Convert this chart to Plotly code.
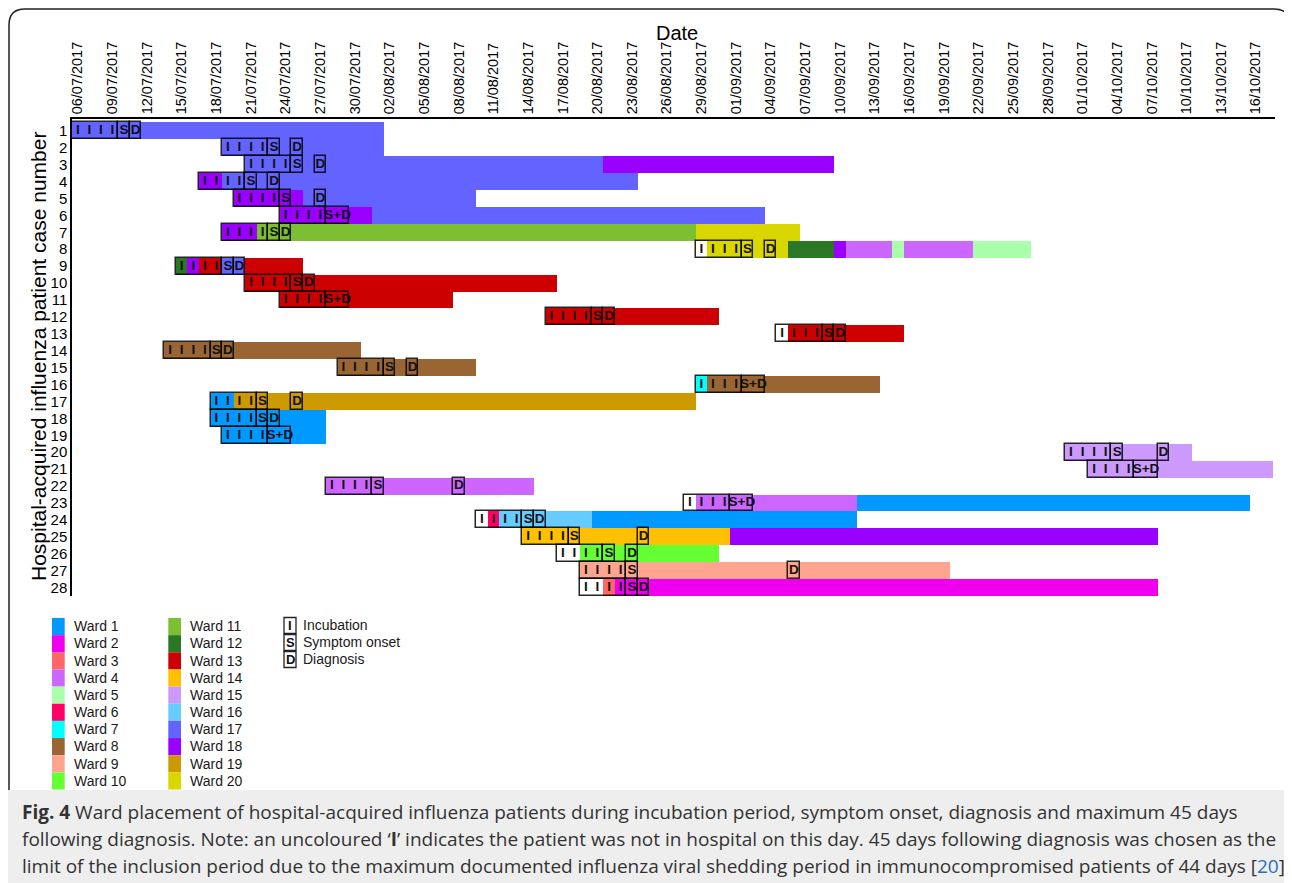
import pandas as pd
import plotly.graph_objects as go

# ---------------- data ----------------
ward_names = ["Ward 1", "Ward 2", "Ward 3", "Ward 4", "Ward 5", "Ward 6", "Ward 7",
              "Ward 8", "Ward 9", "Ward 10", "Ward 11", "Ward 12", "Ward 13", "Ward 14",
              "Ward 15", "Ward 16", "Ward 17", "Ward 18", "Ward 19", "Ward 20"]
ward_colors = ["#0099FF", "#EE00EE", "#FF6666", "#CC66FF", "#AAFFAA", "#FF0066", "#00FFFF",
               "#996633", "#FFA58F", "#66FF33", "#7DBF33", "#2A7826", "#CC0000", "#FFC000",
               "#CC99FF", "#66CCFF", "#6363FF", "#9900FF", "#CC9900", "#DAD600"]
not_in_hospital_color = "#FFFFFF"

patients = list(range(1, 29))
incubation_start = ["2017-07-06", "2017-07-19", "2017-07-21", "2017-07-17", "2017-07-20",
                    "2017-07-24", "2017-07-19", "2017-08-29", "2017-07-15", "2017-07-21",
                    "2017-07-24", "2017-08-16", "2017-09-05", "2017-07-14", "2017-07-29",
                    "2017-08-29", "2017-07-18", "2017-07-18", "2017-07-19", "2017-09-30",
                    "2017-10-02", "2017-07-28", "2017-08-28", "2017-08-10", "2017-08-14",
                    "2017-08-17", "2017-08-19", "2017-08-19"]
symptom_onset = ["2017-07-10", "2017-07-23", "2017-07-25", "2017-07-21", "2017-07-24",
                 "2017-07-28", "2017-07-23", "2017-09-02", "2017-07-19", "2017-07-25",
                 "2017-07-28", "2017-08-20", "2017-09-09", "2017-07-18", "2017-08-02",
                 "2017-09-02", "2017-07-22", "2017-07-22", "2017-07-23", "2017-10-04",
                 "2017-10-06", "2017-08-01", "2017-09-01", "2017-08-14", "2017-08-18",
                 "2017-08-21", "2017-08-23", "2017-08-23"]
diagnosis = ["2017-07-11", "2017-07-25", "2017-07-27", "2017-07-23", "2017-07-27",
             "2017-07-28", "2017-07-24", "2017-09-04", "2017-07-20", "2017-07-26",
             "2017-07-28", "2017-08-21", "2017-09-10", "2017-07-19", "2017-08-04",
             "2017-09-02", "2017-07-25", "2017-07-23", "2017-07-23", "2017-10-08",
             "2017-10-06", "2017-08-08", "2017-09-01", "2017-08-15", "2017-08-24",
             "2017-08-23", "2017-09-06", "2017-08-24"]

# ward placement segments (ward 0 = not in hospital); end date exclusive
seg_patient = [1, 2, 3, 3, 4, 4, 5, 5, 6, 6,
               7, 7, 7, 8, 8, 8, 8, 8, 8, 8, 8,
               9, 9, 9, 9, 9, 10, 11, 12, 13, 13,
               14, 15, 16, 16, 17, 17, 18, 19, 20, 21,
               22, 23, 23, 23, 24, 24, 24, 24, 25, 25,
               26, 26, 27, 28, 28, 28]
seg_start = ["2017-07-06", "2017-07-19", "2017-07-21", "2017-08-21", "2017-07-17", "2017-07-19",
             "2017-07-20", "2017-07-26", "2017-07-24", "2017-08-01",
             "2017-07-19", "2017-07-22", "2017-08-29",
             "2017-08-29", "2017-08-30", "2017-09-06", "2017-09-10", "2017-09-11", "2017-09-15",
             "2017-09-16", "2017-09-22",
             "2017-07-15", "2017-07-16", "2017-07-17", "2017-07-19", "2017-07-21",
             "2017-07-21", "2017-07-24", "2017-08-16", "2017-09-05", "2017-09-06",
             "2017-07-14", "2017-07-29", "2017-08-29", "2017-08-30", "2017-07-18", "2017-07-20",
             "2017-07-18", "2017-07-19", "2017-09-30", "2017-10-02",
             "2017-07-28", "2017-08-28", "2017-08-29", "2017-09-12",
             "2017-08-10", "2017-08-11", "2017-08-12", "2017-08-20", "2017-08-14", "2017-09-01",
             "2017-08-17", "2017-08-19", "2017-08-19", "2017-08-19", "2017-08-21", "2017-08-22"]
seg_end = ["2017-08-02", "2017-08-02", "2017-08-21", "2017-09-10", "2017-07-19", "2017-08-24",
           "2017-07-26", "2017-08-10", "2017-08-01", "2017-09-04",
           "2017-07-22", "2017-08-29", "2017-09-07",
           "2017-08-30", "2017-09-06", "2017-09-10", "2017-09-11", "2017-09-15", "2017-09-16",
           "2017-09-22", "2017-09-27",
           "2017-07-16", "2017-07-17", "2017-07-19", "2017-07-21", "2017-07-26",
           "2017-08-17", "2017-08-08", "2017-08-31", "2017-09-06", "2017-09-16",
           "2017-07-31", "2017-08-10", "2017-08-30", "2017-09-14", "2017-07-20", "2017-08-29",
           "2017-07-28", "2017-07-28", "2017-10-11", "2017-10-18",
           "2017-08-15", "2017-08-29", "2017-09-12", "2017-10-16",
           "2017-08-11", "2017-08-12", "2017-08-20", "2017-09-12", "2017-09-01", "2017-10-08",
           "2017-08-19", "2017-08-31", "2017-09-20", "2017-08-21", "2017-08-22", "2017-10-08"]
seg_ward = [17, 17, 17, 18, 18, 17, 18, 17, 18, 17,
            18, 11, 20, 0, 20, 12, 18, 4, 5, 4, 5,
            12, 18, 13, 17, 13, 13, 13, 13, 0, 13,
            8, 8, 7, 8, 1, 19, 1, 1, 15, 15,
            4, 0, 4, 1, 0, 6, 16, 1, 14, 18,
            0, 10, 9, 0, 3, 2]

symbols = ["I", "S", "D"]
symbol_labels = ["Incubation", "Symptom onset", "Diagnosis"]

# ---------------- helpers ----------------
DAY = pd.Timedelta(days=1)
HALF = pd.Timedelta(hours=12)
FONT = "Liberation Sans, Arial, sans-serif"
# plot-area edges in reference-image pixels
L, R, T, B = 72, 1275, 119, 596
PAGE_PAD = 8                      # browser body margin
FIG_W, FIG_H = 1292 - PAGE_PAD, 883 - PAGE_PAD


def ms(a, b):
    return (pd.Timestamp(b) - pd.Timestamp(a)).total_seconds() * 1000.0


def px_x(p):
    return (p - L) / (R - L)


def px_y(p):
    return (B - p) / (B - T)


fig = go.Figure()

# coloured ward segments
for w in [0] + list(range(1, 21)):
    idx = [i for i, s in enumerate(seg_ward) if s == w]
    if not idx:
        continue
    color = not_in_hospital_color if w == 0 else ward_colors[w - 1]
    fig.add_trace(go.Bar(
        orientation="h",
        y=[seg_patient[i] for i in idx],
        base=[seg_start[i] for i in idx],
        x=[ms(seg_start[i], seg_end[i]) for i in idx],
        width=1.0,
        marker=dict(color=color, line=dict(width=0)),
        showlegend=False, hoverinfo="skip",
    ))

# outline boxes (incubation, symptom onset, diagnosis)
box_y, box_base, box_len = [], [], []
for p, inc, s, d in zip(patients, incubation_start, symptom_onset, diagnosis):
    box_y.append(p); box_base.append(inc); box_len.append(ms(inc, s))
    if s == d:
        box_y.append(p); box_base.append(s)
        box_len.append(ms(s, pd.Timestamp(s) + 2 * DAY))
    else:
        box_y += [p, p]
        box_base += [s, d]
        box_len += [ms(s, pd.Timestamp(s) + DAY), ms(d, pd.Timestamp(d) + DAY)]
fig.add_trace(go.Bar(
    orientation="h", y=box_y, base=box_base, x=box_len, width=1.0,
    marker=dict(color="rgba(0,0,0,0)", line=dict(color="rgba(0,0,0,0.85)", width=1.5)),
    showlegend=False, hoverinfo="skip",
))

# text marks
tx, ty, tt = [], [], []
for p, inc, s, d in zip(patients, incubation_start, symptom_onset, diagnosis):
    for day in pd.date_range(inc, pd.Timestamp(s) - DAY, freq="D"):
        tx.append(day + HALF); ty.append(p); tt.append("I")
    if s == d:
        tx.append(pd.Timestamp(s) + DAY); ty.append(p); tt.append("S+D")
    else:
        tx.append(pd.Timestamp(s) + HALF); ty.append(p); tt.append("S")
        tx.append(pd.Timestamp(d) + HALF); ty.append(p); tt.append("D")
fig.add_trace(go.Scatter(
    x=tx, y=ty, text=tt, mode="text",
    textfont=dict(family=FONT, size=13.5, color="#111111", weight="bold"),
    textposition="middle center", showlegend=False, hoverinfo="skip", cliponaxis=False,
))

shapes = []
annotations = []

# legend of wards
for i, (name, col) in enumerate(zip(ward_names, ward_colors)):
    c, r = divmod(i, 10)
    x0 = 52 + 116.3 * c
    y0 = 618 + 17.15 * r
    shapes.append(dict(type="rect", xref="paper", yref="paper",
                       x0=px_x(x0), x1=px_x(x0 + 12.7), y0=px_y(y0), y1=px_y(y0 + 17.15),
                       fillcolor=col, line=dict(width=0)))
    annotations.append(dict(xref="paper", yref="paper", x=px_x(x0 + 19.5), y=px_y(y0 + 8.3),
                            text=name, showarrow=False, xanchor="left", yanchor="middle",
                            font=dict(family=FONT, size=14, color="#1a1a1a")))

# legend of symbols
for i, (sym, lab) in enumerate(zip(symbols, symbol_labels)):
    y0 = 617.5 + 17 * i
    shapes.append(dict(type="rect", xref="paper", yref="paper",
                       x0=px_x(284), x1=px_x(296), y0=px_y(y0), y1=px_y(y0 + 16),
                       fillcolor="white", line=dict(color="#222222", width=1.3)))
    annotations.append(dict(xref="paper", yref="paper", x=px_x(290), y=px_y(y0 + 8),
                            text="<b>%s</b>" % sym, showarrow=False, xanchor="center",
                            yanchor="middle", font=dict(family=FONT, size=13, color="#111111")))
    annotations.append(dict(xref="paper", yref="paper", x=px_x(301), y=px_y(y0 + 7),
                            text=lab, showarrow=False, xanchor="left", yanchor="middle",
                            font=dict(family=FONT, size=14, color="#1a1a1a")))

# axis titles
annotations.append(dict(xref="paper", yref="paper", x=px_x(677), y=px_y(33),
                        text="Date", showarrow=False, xanchor="center", yanchor="middle",
                        font=dict(family=FONT, size=20, color="black")))
annotations.append(dict(xref="paper", yref="paper", x=px_x(38), y=px_y(357),
                        text="Hospital-acquired influenza patient case number", textangle=-90,
                        showarrow=False, xanchor="center", yanchor="middle",
                        font=dict(family=FONT, size=21, color="black")))

# frame and caption
shapes.append(dict(type="rect", xref="paper", yref="paper",
                   x0=px_x(8), x1=px_x(1300), y0=px_y(790), y1=px_y(890),
                   fillcolor="#EEEEEE", line=dict(width=0), layer="below"))
frame = "M {a},{b} L {a},{c} Q {a},{d} {e},{d} L {f},{d} Q {g},{d} {g},{c} L {g},{h}".format(
    a=px_x(9), b=px_y(790), c=px_y(25), d=px_y(9), e=px_x(25), f=px_x(1274),
    g=px_x(1290), h=px_y(790))
shapes.append(dict(type="path", xref="paper", yref="paper", path=frame,
                   line=dict(color="#222222", width=1.5)))

caption_lines = [
    "<b>Fig. 4</b> Ward placement of hospital-acquired influenza patients during incubation period, symptom onset, diagnosis and maximum 45 days",
    "following diagnosis. Note: an uncoloured \u2018<b>I</b>\u2019 indicates the patient was not in hospital on this day. 45 days following diagnosis was chosen as the",
    "limit of the inclusion period due to the maximum documented influenza viral shedding period in immunocompromised patients of 44 days [<span style=\"color:#2A6EBB\">20</span>]",
]
for k, line in enumerate(caption_lines):
    annotations.append(dict(xref="paper", yref="paper", x=px_x(20), y=px_y(812 + 27 * k),
                            text=line, showarrow=False, xanchor="left", yanchor="middle",
                            font=dict(family="Open Sans, Noto Sans, sans-serif", size=19,
                                      color="#333333")))

fig.update_layout(
    width=FIG_W, height=FIG_H,
    margin=dict(l=L - PAGE_PAD, r=FIG_W - (R - PAGE_PAD), t=T - PAGE_PAD,
                b=FIG_H - (B - PAGE_PAD)),
    paper_bgcolor="white", plot_bgcolor="white",
    barmode="overlay", bargap=0,
    showlegend=False,
    shapes=shapes, annotations=annotations,
    xaxis=dict(
        type="date", side="top",
        range=["2017-07-06", "2017-10-18 04:00"],
        tick0="2017-07-06 12:00", dtick=3 * 86400000, tickformat="%d/%m/%Y",
        tickangle=-90, ticks="", showgrid=False, zeroline=False,
        showline=True, linecolor="black", linewidth=1.5,
        tickfont=dict(family=FONT, size=14.5, color="black"),
        fixedrange=True,
    ),
    yaxis=dict(
        range=[28.5, 0.3], tickmode="array", tickvals=patients,
        ticktext=[str(p) for p in patients],
        ticks="", showgrid=False, zeroline=False,
        showline=True, linecolor="black", linewidth=1.5,
        tickfont=dict(family=FONT, size=15, color="black"),
        fixedrange=True,
    ),
)

fig.write_html("out.html")
